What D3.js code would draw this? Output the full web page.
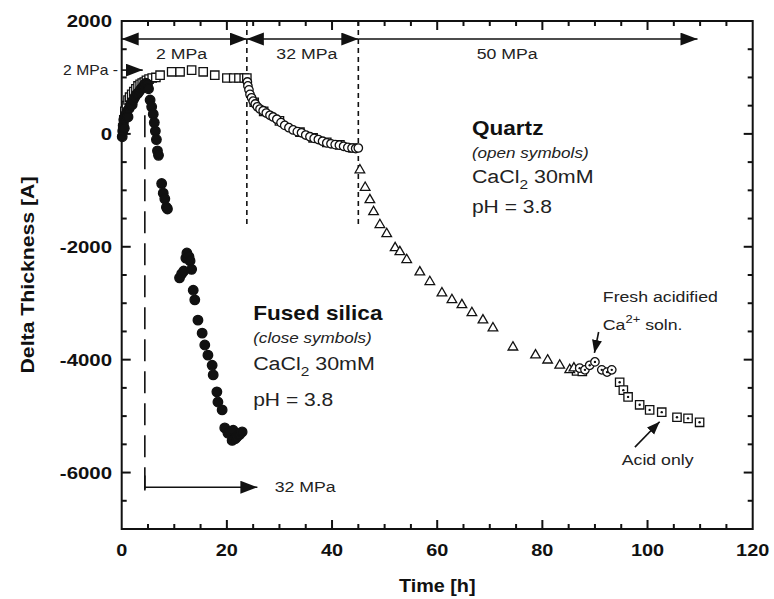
<!DOCTYPE html>
<html><head><meta charset="utf-8">
<script src="https://cdn.jsdelivr.net/npm/d3@7"></script>
<style>body{margin:0;background:#fff}</style>
</head><body>
<svg id="c" width="774" height="599"></svg>
<script>
// ---- data (time [h], delta thickness [A]) ----
const xTicks = [0, 20, 40, 60, 80, 100, 120];
const yTicks = [-6000, -4000, -2000, 0, 2000];
const xMinor = [5,10,15,25,30,35,45,50,55,65,70,75,85,90,95,105,110,115];
const yMinor = [-6500,-5500,-5000,-4500,-3500,-3000,-2500,-1500,-1000,-500,500,1000,1500];

const fusedSilica = [
 [0.1,-50],[0.2,50],[0.3,150],[0.4,250],[0.5,100],[0.6,300],[0.8,350],[1.0,400],[1.2,300],
 [1.4,450],[1.6,500],[1.8,550],[2.0,520],[2.2,600],[2.5,650],[2.8,700],[3.1,720],[3.4,760],
 [3.7,800],[4.0,830],[4.3,870],[4.6,900],[4.9,880],[5.1,800],[5.4,600],[5.7,480],[6.0,350],
 [6.2,200],[6.4,50],[6.6,-100],[6.8,-300],[7.0,-380],[7.6,-880],[7.9,-1050],[8.2,-1150],
 [8.5,-1300],[8.7,-1330],
 [11.0,-2550],[11.4,-2480],[11.8,-2430],[12.2,-2200],[12.4,-2110],[12.8,-2180],[13.0,-2250],
 [13.3,-2400],[13.6,-2770],[13.9,-2940],[14.5,-3300],[15.3,-3530],[15.8,-3740],[16.4,-3920],
 [17.2,-4100],[17.4,-4270],[18.1,-4570],[18.3,-4750],[19.1,-4890],[19.6,-5210],[20.2,-5300],
 [20.6,-5280],[21.0,-5430],[21.2,-5250],[21.6,-5400],[21.9,-5370],[22.4,-5330],[22.9,-5280]
];
const quartzSquares = [
 [0.2,100],[0.4,250],[0.6,400],[0.9,500],[1.2,600],[1.5,650],[1.9,700],[2.3,750],[2.7,800],
 [3.1,850],[3.5,880],[3.9,900],[4.3,920],[4.7,950],[5.2,970],[5.8,990],[6.5,1000],[7.3,1040],
 [9.5,1100],[11.1,1100],[13.3,1130],[15.5,1100],[17.7,1040],[20.0,990],[21.3,990],[22.3,990],
 [23.3,990],[23.8,990],
 [25.2,560],[27.0,400],[30.0,230],[33.9,30],[36.4,-70],[39.0,-150],[41.5,-195],[44.0,-250],
 [86.5,-4200],[87.6,-4210]
];
const quartzCircles = [
 [23.9,920],[24.0,850],[24.2,780],[24.4,700],[24.7,640],[25.0,580],[25.4,530],[25.8,480],
 [26.3,440],[26.9,410],[27.5,370],[28.2,330],[28.8,300],[29.5,260],[30.3,200],[31.0,150],
 [31.8,110],[32.6,70],[33.4,40],[34.2,20],[35.0,-20],[35.8,-50],[36.6,-80],[37.4,-100],
 [38.2,-130],[39.0,-160],[39.8,-175],[40.6,-190],[41.4,-200],[42.2,-220],[43.0,-240],
 [43.8,-250],[44.5,-260],[45.0,-250]
];
const quartzTriangles = [
 [45.3,-640],[46.3,-950],[47.2,-1170],[47.9,-1380],[49.1,-1610],[50.4,-1770],[52.0,-2020],
 [52.9,-2090],[54.2,-2230],[56.7,-2450],[58.6,-2620],[60.9,-2820],[62.8,-2940],[64.7,-3030],
 [66.6,-3170],[68.7,-3300],[70.6,-3440],[74.4,-3780],[78.7,-3920],[81.0,-4010],[83.3,-4100],
 [85.2,-4180],[86.0,-4150]
];
const freshCircles = [
 [87.1,-4150],[88.1,-4180],[89.0,-4100],[90.0,-4040],[91.3,-4180],[92.3,-4220],[93.2,-4180]
];
const acidSquares = [
 [94.7,-4400],[95.4,-4540],[96.3,-4660],[98.5,-4800],[100.4,-4890],[102.7,-4930],
 [105.6,-5020],[107.7,-5040],[109.9,-5110]
];
// pressure stages [start, end, label]
const stages = [[0,23.8,"2 MPa"],[23.8,45,"32 MPa"],[45,109.5,"50 MPa"]];

// ---- setup ----
const svg = d3.select("#c");
const x = d3.scaleLinear().domain([0,120]).range([121.7,752.7]);
const y = d3.scaleLinear().domain([-7000,2000]).range([529,21]);
const FONT = "'Liberation Sans', Arial, Helvetica, sans-serif";
const SX = 1.18;
const INK = "#111";

function txt(g, str, px, py, o={}) {
  const t = g.append("text")
    .attr("transform", `translate(${px},${py}) ${o.rot?'rotate(-90) ':''}scale(${o.sx||SX},1)`)
    .attr("font-family", FONT).attr("font-size", o.size||15)
    .attr("font-weight", o.bold?"bold":"normal")
    .attr("font-style", o.italic?"italic":"normal")
    .attr("text-anchor", o.anchor||"start")
    .attr("fill", o.fill||"#222");
  if (str !== null) t.text(str);
  return t;
}

const defs = svg.append("defs");
defs.append("marker").attr("id","ah").attr("markerUnits","userSpaceOnUse")
  .attr("markerWidth",18).attr("markerHeight",14).attr("refX",17).attr("refY",6.5)
  .attr("orient","auto-start-reverse")
  .append("path").attr("d","M0,0 L17,6.5 L0,13 Z").attr("fill",INK);
defs.append("marker").attr("id","ahs").attr("markerUnits","userSpaceOnUse")
  .attr("markerWidth",14).attr("markerHeight",12).attr("refX",13).attr("refY",5)
  .attr("orient","auto")
  .append("path").attr("d","M0,0 L13,5 L0,10 Z").attr("fill",INK);

// ---- frame & ticks ----
const ax = svg.append("g");
const [x0,x1] = x.range(), [yb,yt] = y.range();
ax.append("rect").attr("x",x0).attr("y",yt).attr("width",x1-x0).attr("height",yb-yt)
  .attr("fill","none").attr("stroke",INK).attr("stroke-width",2);
function ticks(vals, len) {
  vals.forEach(v => {
    ax.append("line").attr("x1",x(v)).attr("x2",x(v)).attr("y1",yb).attr("y2",yb-len);
    ax.append("line").attr("x1",x(v)).attr("x2",x(v)).attr("y1",yt).attr("y2",yt+len);
  });
}
function yticksF(vals, len) {
  vals.forEach(v => {
    ax.append("line").attr("y1",y(v)).attr("y2",y(v)).attr("x1",x0).attr("x2",x0+len);
    ax.append("line").attr("y1",y(v)).attr("y2",y(v)).attr("x1",x1).attr("x2",x1-len);
  });
}
ticks(xTicks.slice(1,-1), 9); ticks(xMinor, 5);
yticksF(yTicks.slice(0,-1), 9); yticksF(yMinor, 5);
ax.selectAll("line").attr("stroke",INK).attr("stroke-width",2);

xTicks.forEach(v => txt(ax, String(v), x(v), 556, {size:17, bold:true, anchor:"middle", sx:1.17, fill:INK}));
yTicks.forEach(v => txt(ax, String(v), 112, y(v)+6, {size:17, bold:true, anchor:"end", sx:1.2, fill:INK}));
txt(ax, "Time [h]", (x0+x1)/2, 592, {size:18, bold:true, anchor:"middle", sx:1.1, fill:INK});
txt(ax, "Delta Thickness [A]", 34, (yt+yb)/2, {size:18, bold:true, anchor:"middle", rot:true, sx:1.18, fill:INK});

// ---- annotations: stages ----
const an = svg.append("g");
const arrowY = y(1680);
stages.forEach((s,i) => {
  const l = an.append("line").attr("x1",x(s[0])).attr("x2",x(s[1]))
    .attr("y1",arrowY).attr("y2",arrowY).attr("stroke",INK).attr("stroke-width",1.6)
    .attr("marker-end","url(#ah)");
  if (i < 2) l.attr("marker-start","url(#ah)");
});
txt(an, "2 MPa", x(11.4), y(1330), {size:15, anchor:"middle"});
txt(an, "32 MPa", x(35.2), y(1330), {size:15, anchor:"middle"});
txt(an, "50 MPa", x(73.3), y(1330), {size:15, anchor:"middle"});
[23.8, 45].forEach(t => an.append("line").attr("x1",x(t)).attr("x2",x(t))
  .attr("y1",y(2000)).attr("y2",y(-1600)).attr("stroke",INK).attr("stroke-width",1.6)
  .attr("stroke-dasharray","5,4"));

// 2 MPa start arrow
an.append("line").attr("x1",x(0)).attr("x2",x(4)).attr("y1",y(1130)).attr("y2",y(1130))
  .attr("stroke",INK).attr("stroke-width",1.6).attr("marker-end","url(#ah)");
txt(an, "2 MPa -", 118, y(1130)+5, {size:14, anchor:"end", sx:1.12});

// fused silica 32 MPa
an.append("line").attr("x1",x(4.4)).attr("x2",x(4.4)).attr("y1",y(330)).attr("y2",y(-6300))
  .attr("stroke",INK).attr("stroke-width",1.6).attr("stroke-dasharray","22,10");
an.append("line").attr("x1",x(4.4)).attr("x2",x(4.4)).attr("y1",y(-6050)).attr("y2",y(-6320))
  .attr("stroke",INK).attr("stroke-width",1.6);
an.append("line").attr("x1",x(4.4)).attr("x2",x(25.8)).attr("y1",y(-6260)).attr("y2",y(-6260))
  .attr("stroke",INK).attr("stroke-width",1.4).attr("marker-end","url(#ah)");
txt(an, "32 MPa", x(29.1), y(-6260)+5, {size:15});

// ---- data marks ----
const sym = (type, size) => d3.symbol().type(type).size(size)();
const dm = svg.append("g");
function pts(data, type, size, filled, dot) {
  const g = dm.append("g");
  g.selectAll("path").data(data).join("path")
    .attr("transform", d => `translate(${x(d[0])},${y(d[1])})`)
    .attr("d", sym(type, size))
    .attr("fill", filled ? INK : "#fff")
    .attr("stroke", INK).attr("stroke-width", 1.3);
  if (dot) g.selectAll("circle").data(data).join("circle")
    .attr("cx", d => x(d[0])).attr("cy", d => y(d[1])).attr("r", 1.2).attr("fill", INK);
}
pts(quartzSquares, d3.symbolSquare, 70, false);
pts(quartzCircles, d3.symbolCircle, 56, false);
pts(quartzTriangles, d3.symbolTriangle, 40, false);
pts(freshCircles, d3.symbolCircle, 56, false, true);
pts(acidSquares, d3.symbolSquare, 70, false, true);
pts(fusedSilica, d3.symbolCircle, 72, true);

// ---- text blocks ----
const tb = svg.append("g");
function block(tx, vals, title, sub) {
  txt(tb, title, x(tx), y(vals[0]), {size:20, bold:true, fill:INK, sx:1.13});
  txt(tb, sub, x(tx), y(vals[1]), {size:14, italic:true, sx:1.22});
  const c = txt(tb, null, x(tx), y(vals[2]), {size:18, sx:1.19});
  c.append("tspan").text("CaCl");
  c.append("tspan").attr("font-size",13).attr("dy",6).text("2");
  c.append("tspan").attr("dy",-6).text(" 30mM");
  txt(tb, "pH = 3.8", x(tx), y(vals[3]), {size:18, sx:1.17});
}
block(66.6, [-20,-425,-870,-1400], "Quartz", "(open symbols)");
block(25.0, [-3300,-3705,-4185,-4820], "Fused silica", "(close symbols)");

txt(tb, "Fresh acidified", x(91.5), y(-2980), {size:15});
const ca = txt(tb, null, x(91.5), y(-3475), {size:15});
ca.append("tspan").text("Ca");
ca.append("tspan").attr("font-size",11).attr("dy",-7).text("2+");
ca.append("tspan").attr("dy",7).text(" soln.");
tb.append("line").attr("x1",x(90.7)).attr("y1",y(-3510)).attr("x2",x(89.9)).attr("y2",y(-3880))
  .attr("stroke",INK).attr("stroke-width",1.6).attr("marker-end","url(#ahs)");
txt(tb, "Acid only", x(95.1), y(-5870), {size:15});
tb.append("line").attr("x1",x(97.6)).attr("y1",y(-5550)).attr("x2",x(102.3)).attr("y2",y(-5100))
  .attr("stroke",INK).attr("stroke-width",1.6).attr("marker-end","url(#ahs)");
</script>
</body></html>
